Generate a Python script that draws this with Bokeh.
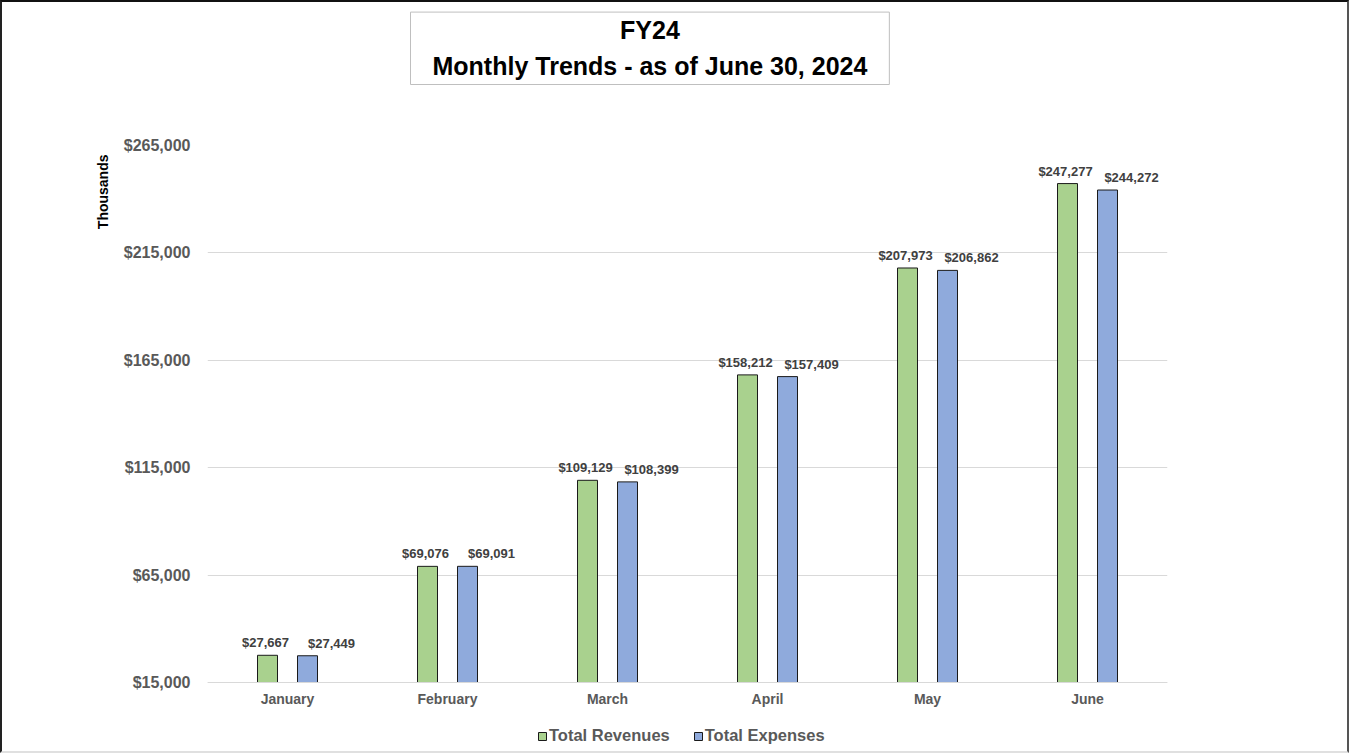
from bokeh.plotting import figure
from bokeh.models import (FactorRange, Range1d, FixedTicker, NumeralTickFormatter,
                          ColumnDataSource, Legend, LegendItem, Title)
from bokeh.transform import dodge
from bokeh.core.properties import value
from bokeh.embed import file_html
from bokeh.resources import INLINE

months = ["January", "February", "March", "April", "May", "June"]
revenues = [27667, 69076, 109129, 158212, 207973, 247277]
expenses = [27449, 69091, 108399, 157409, 206862, 244272]
y_ticks = [15000, 65000, 115000, 165000, 215000, 265000]
series_names = ["Total Revenues", "Total Expenses"]
title_lines = ["FY24", "Monthly Trends - as of June 30, 2024"]
axis_title = "Thousands"

GREEN = "#A9D18E"
BLUE = "#8FAADC"
FONT = "Liberation Sans"

# layout: the value scale spans PLOT_H px; the frame continues below it
# so that the category labels and the legend sit inside the frame
PLOT_H = 537
FRAME_H = 606
y_lo = y_ticks[0] - (FRAME_H - PLOT_H) * (y_ticks[-1] - y_ticks[0]) / PLOT_H

src = ColumnDataSource(dict(
    month=months, rev=revenues, exp=expenses,
    rev_label=[f"${v:,}" for v in revenues],
    exp_label=[f"${v:,}" for v in expenses],
))

p = figure(x_range=FactorRange(*months, range_padding=0),
           y_range=Range1d(y_lo, y_ticks[-1]),
           frame_width=960, frame_height=FRAME_H,
           min_border_left=205, min_border_right=180,
           min_border_top=143, min_border_bottom=0,
           output_backend="svg", toolbar_location=None, title=None)
p.outline_line_color = None
p.background_fill_color = "white"
p.border_fill_color = "white"

rv = p.vbar(x=dodge("month", -0.125, range=p.x_range), top="rev", bottom=y_ticks[0],
            width=0.125, source=src, fill_color=GREEN, line_color="#1a1a1a", line_width=1)
ev = p.vbar(x=dodge("month", 0.125, range=p.x_range), top="exp", bottom=y_ticks[0],
            width=0.125, source=src, fill_color=BLUE, line_color="#1a1a1a", line_width=1)

common = dict(source=src, text_font=value(FONT), text_font_style="bold",
              text_font_size="13px", text_color="#404040", text_align="center",
              text_baseline="bottom", y_offset=-5)
p.text(x=dodge("month", -0.125, range=p.x_range), y="rev", text="rev_label", x_offset=-2, **common)
p.text(x=dodge("month", 0.125, range=p.x_range), y="exp", text="exp_label", x_offset=24, **common)

# axes
p.yaxis.ticker = FixedTicker(ticks=y_ticks)
p.yaxis.formatter = NumeralTickFormatter(format="$0,0")
p.yaxis.axis_line_color = None
p.yaxis.major_tick_line_color = None
p.yaxis.minor_tick_line_color = None
p.yaxis.major_label_standoff = 11
p.yaxis.major_label_text_font = FONT
p.yaxis.major_label_text_font_style = "bold"
p.yaxis.major_label_text_font_size = "16px"
p.yaxis.major_label_text_color = "#595959"

p.xaxis.fixed_location = y_ticks[0]
p.xaxis.axis_line_color = "#D9D9D9"
p.xaxis.major_tick_line_color = None
p.xaxis.minor_tick_line_color = None
p.xaxis.major_label_standoff = 2
p.xaxis.major_label_text_font = FONT
p.xaxis.major_label_text_font_style = "bold"
p.xaxis.major_label_text_font_size = "14px"
p.xaxis.major_label_text_color = "#595959"

p.xgrid.grid_line_color = None
p.ygrid.grid_line_color = "#D9D9D9"
p.ygrid.grid_line_width = 1

# vertical axis title at top of the value axis
p.add_layout(Title(text=axis_title, align="right", offset=9, standoff=19,
                   text_font=FONT, text_font_style="bold", text_font_size="14px",
                   text_color="black"), "left")

# empty spacer between the plot area and the boxed title
p.add_layout(Title(text=" ", standoff=58, text_font_size="1px"), "above")

# boxed chart title (first line centred over the second with no-break spaces)
title_text = "\u00a0" * 27 + title_lines[0] + "\n" + title_lines[1]
p.add_layout(Title(text=title_text, align="left", offset=203, standoff=0,
                   text_font=FONT, text_font_style="bold", text_font_size="25px",
                   text_line_height=1.3, text_color="black",
                   background_fill_color="white", border_line_color="#BFBFBF",
                   padding=dict(left=22, right=22, top=4, bottom=4)), "above")

legend = Legend(items=[LegendItem(label=series_names[0], renderers=[rv]),
                       LegendItem(label=series_names[1], renderers=[ev])],
                location=(330, 6), orientation="horizontal",
                padding=0, margin=0, spacing=23, label_standoff=2,
                glyph_width=10, glyph_height=10, label_height=16,
                label_text_font=FONT, label_text_font_style="bold",
                label_text_font_size="16.5px", label_text_color="#595959",
                background_fill_alpha=0, border_line_color=None)
p.add_layout(legend)

p.styles = {"border-top": "2px solid #111", "border-left": "2px solid #222",
            "border-right": "2px solid #555", "border-bottom": "2px solid #e0e0e0"}

open("out.html", "w").write(file_html(p, INLINE))
